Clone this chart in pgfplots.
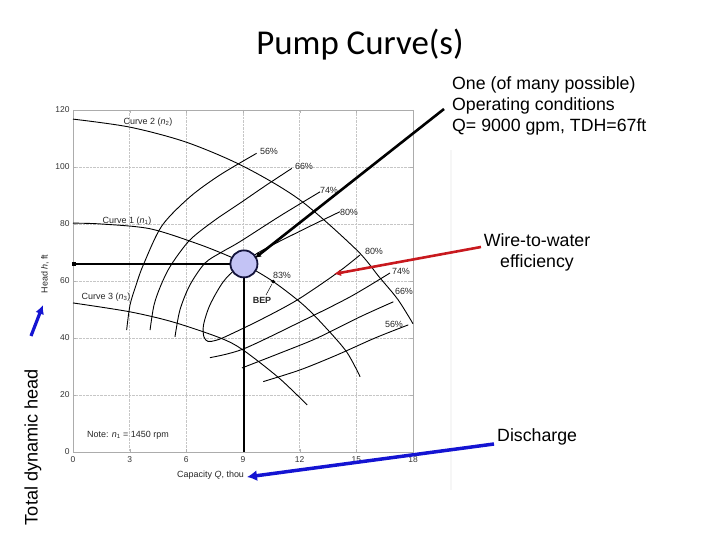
\documentclass[border=0pt]{standalone}
\usepackage{fontspec}
\setmainfont{Liberation Sans}
\newfontfamily\titlefont{Carlito}
\usepackage{pgfplots}
\pgfplotsset{compat=1.18}
\usetikzlibrary{arrows.meta}
\definecolor{circfill}{RGB}{195,195,245}
\definecolor{circedge}{RGB}{20,20,60}
\definecolor{arrred}{RGB}{200,25,30}
\definecolor{arrblue}{RGB}{20,20,210}
\begin{document}
\begin{tikzpicture}
\path[use as bounding box] (0,0) rectangle (720bp,540bp);
\begin{axis}[
 at={(73bp,88bp)}, anchor=south west,
 scale only axis, width=340bp, height=342bp,
 xmin=0,xmax=18,ymin=0,ymax=120,
 xtick={0,3,...,18}, ytick={0,20,...,120},
 grid=major, major grid style={gray!45, densely dotted, line width=0.5bp},
 axis line style={gray!65, line width=0.8bp},
 tick style={gray!60},
 major tick length=3bp,
 tick label style={font=\fontsize{8.5}{10}\selectfont, text=black!80},
 xticklabel style={yshift=-1bp},
 /pgf/number format/assume math mode=true,
 clip=false,
 every axis plot/.append style={line width=0.9bp, black},
]
% operating point circle
\addplot[only marks, mark=*, mark size=13.5bp, mark options={fill=circfill, draw=circedge, line width=1.8bp}] coordinates {(9.05,66)};
% pump curves
\addplot[smooth] coordinates {(0,116.8)(3,114)(6,108.7)(9,100.3)(12,88.5)(15,71)(16.2,61.5)(17.2,53.5)(18,45)};
\addplot[smooth] coordinates {(0,80.3)(1.5,80)(4.1,78.3)(6.7,72.8)(8.5,68)(9.1,65.8)(10.6,59.8)(12.2,51.6)(13.4,43.5)(14.5,35)(15.2,26.4)};
\addplot[smooth] coordinates {(0,52.3)(3,49.2)(5.3,45.6)(7.8,40)(9,35.8)(10.9,26)(12.4,16.5)};
% efficiency contours, left branches
\addplot[smooth] coordinates {(2.84,42.8)(3.02,51.6)(3.34,58.6)(3.72,65.6)(4.70,79.3)(6.19,89.5)(7.78,97.2)(9.72,104.8)};
\addplot[smooth] coordinates {(4.08,42.8)(4.29,51.6)(4.66,58.6)(5.19,65.6)(6.19,74.4)(7.52,81.4)(8.84,87.3)(10.16,93.3)(11.58,99.5)};
\addplot[smooth] coordinates {(5.40,40.4)(5.66,49.8)(6.19,58.6)(6.99,66.3)(7.89,70.2)(8.84,73.8)(10.96,82.8)(13.08,91.3)};
% 80% contour
\addplot[smooth] coordinates {(14.13,84.3)(12.02,77.5)(9.90,70.3)(8.68,64.6)(7.94,59.6)(7.25,51.6)(6.91,44.6)(6.93,40.4)(7.15,38.8)(7.52,39.1)(8.05,40.4)(9.90,46.3)(11.86,53.3)(13.98,62.8)(15.19,69.1)};
% right branches
\addplot[smooth] coordinates {(7.25,33.1)(9.0,36.1)(12.02,45.6)(14.66,54.4)(16.78,62.8)};
\addplot[smooth] coordinates {(8.95,29.5)(10.96,34.7)(12.9,39.9)(15.19,47.4)(16.96,52.7)};
\addplot[smooth] coordinates {(10.07,24.7)(12.02,28.8)(13.96,34.0)(15.99,40.0)(17.75,44.6)};
% BEP dot
\addplot[only marks, mark=*, mark size=1.3bp] coordinates {(10.6,59.8)};
% operating lines
\addplot[line width=2.2bp] coordinates {(0,66) (9.05,66)};
\addplot[line width=2.2bp] coordinates {(9.05,0) (9.05,66)};
\addplot[only marks, mark=square*, mark size=1.8bp] coordinates {(0.05,66)};
\end{axis}
\begin{scope}[x=1bp,y=-1bp,yshift=540bp]
\draw[gray!7, line width=2bp] (451,150) -- (451,490);
\begin{scope}[every node/.style={inner sep=0pt, font=\fontsize{9}{10}\selectfont, text=black!85}]
\node at (148,122) {Curve 2 ({\itshape n}\textsubscript{2})};
\node at (127,221) {Curve 1 ({\itshape n}\textsubscript{1})};
\node at (106,297.5) {Curve 3 ({\itshape n}\textsubscript{3})};
\node at (128,435) {Note: {\itshape n}\textsubscript{1} = 1450 rpm};
\node at (269,151.5) {56\%};
\node at (304,166.5) {66\%};
\node at (329,190) {74\%};
\node at (349,212) {80\%};
\node at (374,251.5) {80\%};
\node at (401,271.5) {74\%};
\node at (404,291.5) {66\%};
\node at (394,324) {56\%};
\node at (282,275) {83\%};
\node[font=\fontsize{9}{10}\selectfont\bfseries] at (262,300.5) {BEP};
\node[rotate=90] at (45,274) {Head {\itshape h}, ft};
\node[anchor=west] at (177,475) {Capacity {\itshape Q}, thou};
\end{scope}
\draw[line width=0.5bp] (272,284) -- (266,295);
% slide annotations
\node[font=\titlefont\fontsize{35}{40}\selectfont, inner sep=0pt] at (360,45) {Pump Curve(s)};
\node[anchor=west, align=left, inner sep=0pt, font=\fontsize{17.8}{21}\selectfont] at (452,106) {One (of many possible)\\Operating conditions\\Q= 9000 gpm, TDH=67ft};
\node[align=center, inner sep=0pt, font=\fontsize{17.8}{21}\selectfont] at (537,252.5) {Wire-to-water\\efficiency};
\node[anchor=west, inner sep=0pt, font=\fontsize{17.8}{21}\selectfont] at (497,437) {Discharge};
\node[rotate=90, inner sep=0pt, font=\fontsize{18.2}{21}\selectfont] at (33,447) {Total dynamic head};
\draw[line width=2.6bp, -{Latex[length=6bp,width=6bp]}] (444,109) -- (255,258);
\draw[arrred, line width=2.6bp, -{Latex[length=7bp,width=7bp]}] (481,247) -- (334,274);
\draw[arrblue, line width=3.5bp, -{Latex[length=10bp,width=11bp]}] (494,444) -- (247,477);
\draw[arrblue, line width=3.2bp, -{Latex[length=9bp,width=9bp]}] (31,336) -- (43,305);
\end{scope}
\end{tikzpicture}
\end{document}
